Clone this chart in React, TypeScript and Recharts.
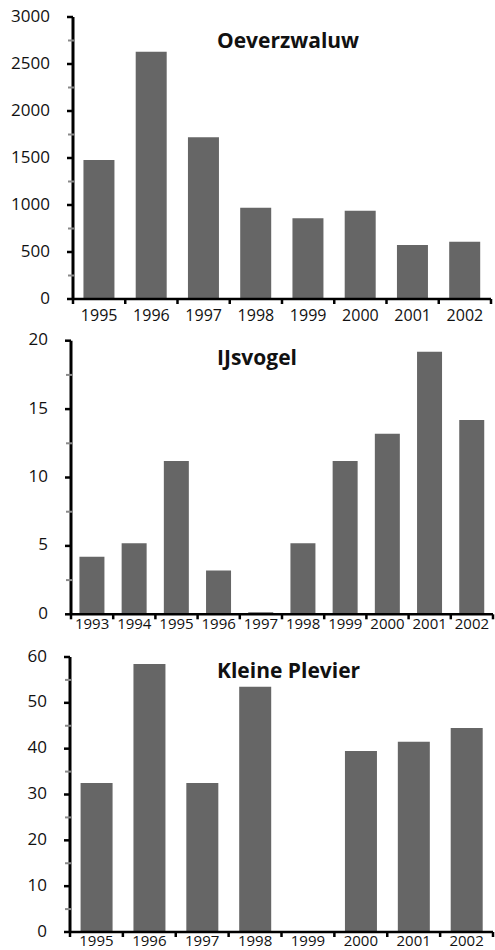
import { BarChart, Bar, XAxis, YAxis } from "recharts";

// Oeverzwaluw
const oeverYears = ["1995", "1996", "1997", "1998", "1999", "2000", "2001", "2002"];
const oeverCounts = [1480, 2630, 1720, 970, 860, 940, 575, 610];
const oeverTicks = [0, 250, 500, 750, 1000, 1250, 1500, 1750, 2000, 2250, 2500, 2750, 3000];

// IJsvogel
const ijsYears = ["1993", "1994", "1995", "1996", "1997", "1998", "1999", "2000", "2001", "2002"];
const ijsCounts = [4.2, 5.2, 11.2, 3.2, 0.15, 5.2, 11.2, 13.2, 19.2, 14.2];
const ijsTicks = [0, 2.5, 5, 7.5, 10, 12.5, 15, 17.5, 20];

// Kleine Plevier
const plevierYears = ["1995", "1996", "1997", "1998", "1999", "2000", "2001", "2002"];
const plevierCounts = [32.5, 58.5, 32.5, 53.5, 0, 39.5, 41.5, 44.5];
const plevierTicks = [0, 5, 10, 15, 20, 25, 30, 35, 40, 45, 50, 55, 60];

const FONT = '"Open Sans", sans-serif';

type PanelProps = {
  title: string;
  years: string[];
  counts: number[];
  ticks: number[];
  majorStep: number;
  top: number;
  height: number;
  plotTop: number;
  axisWidth: number;
  right: number;
  xAxisHeight: number;
  labelDy: number;
  labelSize: number;
  titleY: number;
};

const YTick = (props: any) => {
  const { x, y, payload, majorStep } = props;
  const major = payload.value % majorStep === 0;
  if (!major) {
    return <line x1={x - 5} x2={x + 1.5} y1={y} y2={y} stroke="#8a8a8a" strokeWidth={2} />;
  }
  return (
    <g>
      <line x1={x - 6} x2={x} y1={y} y2={y} stroke="#000" strokeWidth={2.5} />
      <text x={x - 23} y={y} dy={4.5} textAnchor="end" fontSize={17} fill="#111" fontFamily={FONT}>
        {payload.value}
      </text>
    </g>
  );
};

const XTick = (props: any) => {
  const { x, y, payload, index, count, labelDy, labelSize, fallbackHalf } = props;
  const half = payload.offset ?? fallbackHalf;
  return (
    <g>
      <line x1={x - half} x2={x - half} y1={y} y2={y + 5} stroke="#000" strokeWidth={2.5} />
      {index === count - 1 && (
        <line x1={x + half} x2={x + half} y1={y} y2={y + 5} stroke="#000" strokeWidth={2.5} />
      )}
      <text x={x} y={y} dy={labelDy} textAnchor="middle" fontSize={labelSize} fill="#111" fontFamily={FONT}>
        {payload.value}
      </text>
    </g>
  );
};

const Panel = (p: PanelProps) => {
  const data = p.years.map((year, i) => ({ year, count: p.counts[i] }));
  const max = p.ticks[p.ticks.length - 1];
  const plotWidth = 495 - p.axisWidth - p.right;
  return (
    <div style={{ position: "absolute", left: 0, top: p.top, width: 495, height: p.height }}>
      <BarChart
        width={495}
        height={p.height}
        data={data}
        barCategoryGap="20%"
        margin={{ top: p.plotTop, right: p.right, left: 0, bottom: 0 }}
        style={{ overflow: "visible" }}
      >
        <YAxis
          width={p.axisWidth}
          domain={[0, max]}
          ticks={p.ticks}
          interval={0}
          tickSize={0}
          tickMargin={0}
          tickLine={false}
          axisLine={{ stroke: "#000", strokeWidth: 3 }}
          tick={(t: any) => <YTick {...t} majorStep={p.majorStep} />}
        />
        <XAxis
          dataKey="year"
          height={p.xAxisHeight}
          interval={0}
          tickSize={0}
          tickMargin={0}
          tickLine={false}
          axisLine={{ stroke: "#000", strokeWidth: 2.5 }}
          tick={(t: any) => (
            <XTick
              {...t}
              count={p.years.length}
              labelDy={p.labelDy}
              labelSize={p.labelSize}
              fallbackHalf={plotWidth / p.years.length / 2}
            />
          )}
        />
        <Bar dataKey="count" fill="#666666" isAnimationActive={false} />
      </BarChart>
      <svg width={495} height={p.height} style={{ position: "absolute", left: 0, top: 0, pointerEvents: "none" }}>
        <text x={217} y={p.titleY} fontSize={21} fontWeight="bold" fill="#111" fontFamily={FONT}>
          {p.title}
        </text>
      </svg>
    </div>
  );
};

export default function App() {
  return (
    <div style={{ position: "absolute", left: 0, top: 0, width: 495, height: 950, background: "#fff", fontFamily: FONT }}>
      <Panel
        title="Oeverzwaluw"
        years={oeverYears}
        counts={oeverCounts}
        ticks={oeverTicks}
        majorStep={500}
        top={0}
        height={330}
        plotTop={17}
        axisWidth={73}
        right={4}
        xAxisHeight={31}
        labelDy={22}
        labelSize={16}
        titleY={47.5}
      />
      <Panel
        title="IJsvogel"
        years={ijsYears}
        counts={ijsCounts}
        ticks={ijsTicks}
        majorStep={5}
        top={320}
        height={318}
        plotTop={20.7}
        axisWidth={71}
        right={2}
        xAxisHeight={23.7}
        labelDy={15}
        labelSize={15}
        titleY={45}
      />
      <Panel
        title="Kleine Plevier"
        years={plevierYears}
        counts={plevierCounts}
        ticks={plevierTicks}
        majorStep={10}
        top={640}
        height={310}
        plotTop={17}
        axisWidth={70}
        right={2}
        xAxisHeight={18}
        labelDy={14}
        labelSize={15}
        titleY={38.3}
      />
    </div>
  );
}
